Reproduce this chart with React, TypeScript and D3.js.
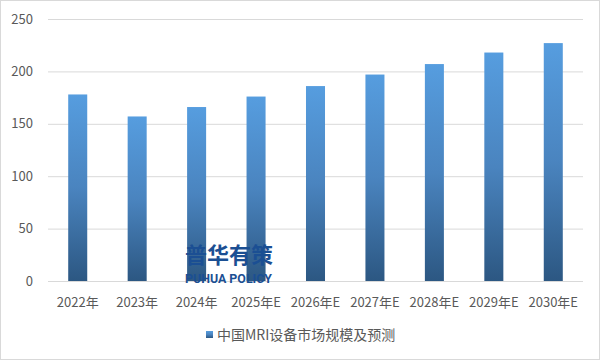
import React from "react";
import * as d3 from "d3";

const categories = ["2022年", "2023年", "2024年", "2025年E", "2026年E", "2027年E", "2028年E", "2029年E", "2030年E"];
const values = [178, 157, 166, 176, 186, 197, 207, 218, 227];
const yTicks = [0, 50, 100, 150, 200, 250];
const legendLabel = "中国MRI设备市场规模及预测";

const W = 601, H = 361;
const left = 48, right = 583, top = 19, bottom = 281;
const font = "'Microsoft YaHei', 'Noto Sans CJK SC', 'Open Sans', sans-serif";

export default function App() {
  const x = d3.scaleBand().domain(categories).range([left, right]).paddingInner(0.68).paddingOuter(0.34);
  const y = d3.scaleLinear().domain([0, 250]).range([bottom, top]);
  return (
    <svg width={W} height={H} style={{ position: "absolute", left: 0, top: 0 }}>
      <defs>
        <linearGradient id="barGrad" x1="0" y1="0" x2="0" y2="1">
          <stop offset="0%" stopColor="#569ddf" />
          <stop offset="50%" stopColor="#4a84bf" />
          <stop offset="100%" stopColor="#2c5782" />
        </linearGradient>
      </defs>
      <rect x={0.5} y={0.5} width={599} height={359} fill="#fff" stroke="#d9d9d9" />
      {yTicks.map(t => (
        <g key={t}>
          <line x1={left} x2={right} y1={y(t) + 0.5} y2={y(t) + 0.5} stroke="#d9d9d9" />
          <text x={33} y={y(t)} dy="0.35em" textAnchor="end" fontSize={13} fill="#595959" fontFamily={font}>{t}</text>
        </g>
      ))}
      {categories.map((c, i) => (
        <rect key={c} x={x(c)} y={y(values[i])} width={x.bandwidth()} height={y(0) - y(values[i])} fill="url(#barGrad)" />
      ))}
      {categories.map(c => (
        <text key={c} x={(x(c) as number) + x.bandwidth() / 2} y={302} dy="0.35em" textAnchor="middle" fontSize={13} fill="#595959" fontFamily={font}>{c}</text>
      ))}
      <text x={185} y={263} fontSize={22} fontWeight="bold" fill="#1b4f93" fontFamily={font} textLength={88} lengthAdjust="spacingAndGlyphs">普华有策</text>
      <text x={185} y={283} fontSize={13} fontWeight="bold" fill="#1b4f93" fontFamily="Roboto, 'Liberation Sans', sans-serif" textLength={87} lengthAdjust="spacingAndGlyphs">PUHUA POLICY</text>
      <rect x={206} y={331} width={7} height={7} fill="url(#barGrad)" />
      <text x={217} y={335} dy="0.35em" fontSize={14} fill="#595959" fontFamily={font}>{legendLabel}</text>
    </svg>
  );
}
